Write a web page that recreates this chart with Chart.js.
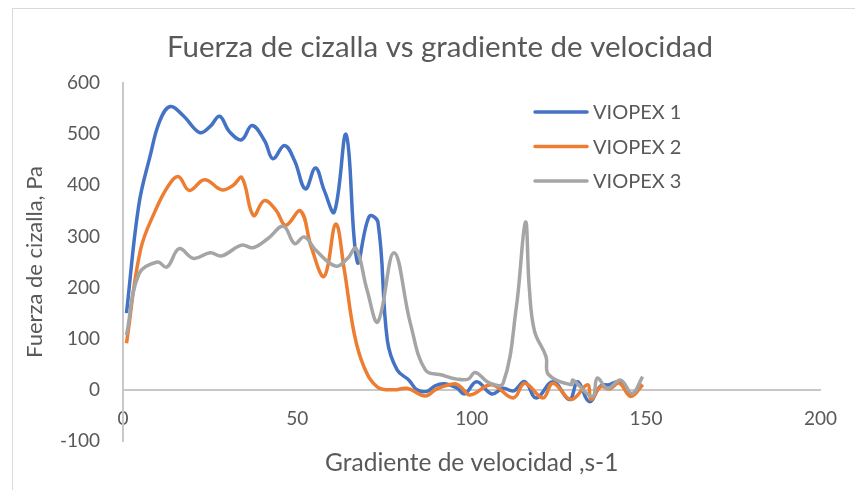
<!DOCTYPE html>
<html>
<head>
<meta charset="utf-8">
<script src="https://cdn.jsdelivr.net/npm/chart.js@4/dist/chart.umd.min.js"></script>
<style>
  html, body { margin: 0; padding: 0; background: #ffffff; overflow: hidden; }
  #wrap { position: relative; width: 855px; height: 490px; overflow: hidden; }
  #frame { position: absolute; left: 12px; top: 8px; width: 900px; height: 600px; border: 1px solid #d9d9d9; box-sizing: border-box; }
  canvas { position: absolute; left: 0; top: 0; }
</style>
</head>
<body>
<div id="wrap">
  <div id="frame"></div>
  <canvas id="c" width="855" height="490"></canvas>
</div>
<script>
// ---- Data ----
const chartTitle = 'Fuerza de cizalla vs gradiente de velocidad';
const xTitle = 'Gradiente de velocidad ,s-1';
const yTitle = 'Fuerza de cizalla, Pa';
const seriesNames = ['VIOPEX 1', 'VIOPEX 2', 'VIOPEX 3'];

const v1x = [1, 4.5, 7.8, 10.5, 13.5, 17.3, 22, 25, 27.7, 30.5, 34, 37, 40.6, 43, 46.3, 49.2, 52.3, 55.2, 57.7, 60.6, 64, 67.2, 70.6, 73.1, 75.8, 78.6, 82, 84.3, 87.2, 89.5, 92.1, 95.7, 98, 101.4, 105.7, 109, 112, 115.2, 118.5, 123.3, 128, 130.4, 133.7, 137, 139.5, 142.3, 145.6, 149];
const v1y = [150, 360, 458, 525, 554, 536, 503, 515, 535, 505, 489, 517, 487, 452, 478, 448, 393, 434, 390, 348, 499, 250, 339, 328, 97, 39, 19, 0, -3, 8, 12, 4, -8, 16, -8, 3, -2, 16, -16, 16, -19, 16, -23, 8, 10, 16, -10, 10];

const v2x = [1, 5, 9.3, 13.1, 15.9, 19, 23.4, 28.3, 31.6, 34.1, 37.4, 40.5, 43.9, 46.7, 50.9, 54, 57.7, 61, 63.4, 66.3, 69.1, 72.9, 77.7, 81.5, 86.7, 90, 95.2, 97, 99.5, 105.7, 111.9, 115.2, 120.4, 123.3, 128.5, 133.2, 134.2, 137, 139.5, 142.3, 145.6, 149];
const v2y = [91, 273, 351, 400, 417, 390, 411, 391, 400, 415, 341, 370, 351, 322, 350, 279, 222, 324, 237, 110, 45, 6, 0, 3, -12, 2, 12, 5, -10, 10, -16, 13, -16, 13, -19, 10, -19, 6, 2, 13, -13, 10];

const v3x = [1, 4.6, 9.8, 12.6, 16.1, 20.2, 25, 28.3, 34, 37.3, 41.6, 46, 49.2, 52, 55.3, 61, 64.4, 66.8, 70, 73.1, 77.7, 82.4, 86.7, 91.5, 95.7, 99, 101, 105.2, 109, 112.8, 115.4, 116.5, 118, 121.3, 122, 128.5, 129, 134.6, 136, 138.9, 142.7, 146, 149];
const v3y = [107, 227, 250, 240, 276, 257, 268, 262, 283, 278, 296, 320, 286, 299, 273, 242, 257, 277, 195, 133, 268, 130, 39, 29, 21, 21, 34, 13, 13, 162, 328, 200, 115, 65, 30, 10, 19, -13, 23, 3, 19, -7, 26];

const xTicks = [0, 50, 100, 150, 200];
const yTicks = [-100, 0, 100, 200, 300, 400, 500, 600];

const colors = ['#4472C4', '#ED7D31', '#A5A5A5'];
const textColor = '#595959';
const axisColor = '#c8c8c8';
const FONT = 'Lato';

function pts(xs, ys) { return xs.map((x, i) => ({ x: x, y: ys[i] })); }

const seriesData = [pts(v1x, v1y), pts(v2x, v2y), pts(v3x, v3y)];

// Legend drawn inside the plot area (as in the reference)
const insideLegend = {
  id: 'insideLegend',
  afterDraw(chart) {
    const ctx = chart.ctx;
    const x0 = 535, x1 = 587, tx = 593, y0 = 112, dy = 34.5;
    ctx.save();
    chart.data.datasets.forEach((ds, i) => {
      const y = y0 + i * dy;
      ctx.beginPath();
      ctx.strokeStyle = ds.borderColor;
      ctx.lineWidth = 3.5;
      ctx.lineCap = 'round';
      ctx.moveTo(x0, y);
      ctx.lineTo(x1, y);
      ctx.stroke();
      ctx.fillStyle = textColor;
      ctx.font = '20px ' + FONT;
      ctx.textBaseline = 'middle';
      ctx.textAlign = 'left';
      ctx.fillText(ds.label, tx, y + 1);
    });
    ctx.restore();
  }
};

new Chart(document.getElementById('c'), {
  type: 'scatter',
  data: {
    datasets: seriesNames.map((name, i) => ({
      label: name,
      data: seriesData[i],
      showLine: true,
      borderColor: colors[i],
      backgroundColor: colors[i],
      borderWidth: 3.5,
      pointRadius: 0,
      pointHoverRadius: 0,
      tension: 0.4,
      fill: false,
      order: 3 - i
    }))
  },
  options: {
    responsive: false,
    devicePixelRatio: 1,
    animation: false,
    layout: { padding: { left: 54, right: 29, top: 0, bottom: 49 } },
    plugins: {
      legend: { display: false },
      tooltip: { enabled: false },
      title: {
        display: true,
        text: chartTitle,
        color: textColor,
        font: { family: FONT, size: 29.5, weight: 'normal' },
        padding: { top: 29.3, bottom: 18.3 }
      }
    },
    scales: {
      x: {
        type: 'linear',
        position: { y: 0 },
        min: xTicks[0],
        max: xTicks[xTicks.length - 1],
        afterBuildTicks(s) { s.ticks = xTicks.map(v => ({ value: v })); },
        ticks: { color: textColor, font: { family: FONT, size: 19 }, padding: 18, maxRotation: 0 },
        grid: { display: false, drawTicks: false },
        border: { display: true, color: axisColor, width: 2 },
        title: {
          display: true, text: xTitle, color: textColor,
          font: { family: FONT, size: 24.5 },
          padding: { top: 0, bottom: -38.5 }
        },
        afterFit(s) { s.height = 49; }
      },
      y: {
        type: 'linear',
        min: yTicks[0],
        max: yTicks[yTicks.length - 1],
        afterBuildTicks(s) { s.ticks = yTicks.map(v => ({ value: v })); },
        ticks: { color: textColor, font: { family: FONT, size: 19 }, padding: 23 },
        grid: { display: false, drawTicks: false },
        border: { display: true, color: axisColor, width: 2 },
        title: {
          display: true, text: yTitle, color: textColor,
          font: { family: FONT, size: 22 },
          padding: { top: -32, bottom: 0 }
        },
        afterFit(s) { s.width = 69; }
      }
    }
  },
  plugins: [insideLegend]
});
</script>
</body>
</html>
